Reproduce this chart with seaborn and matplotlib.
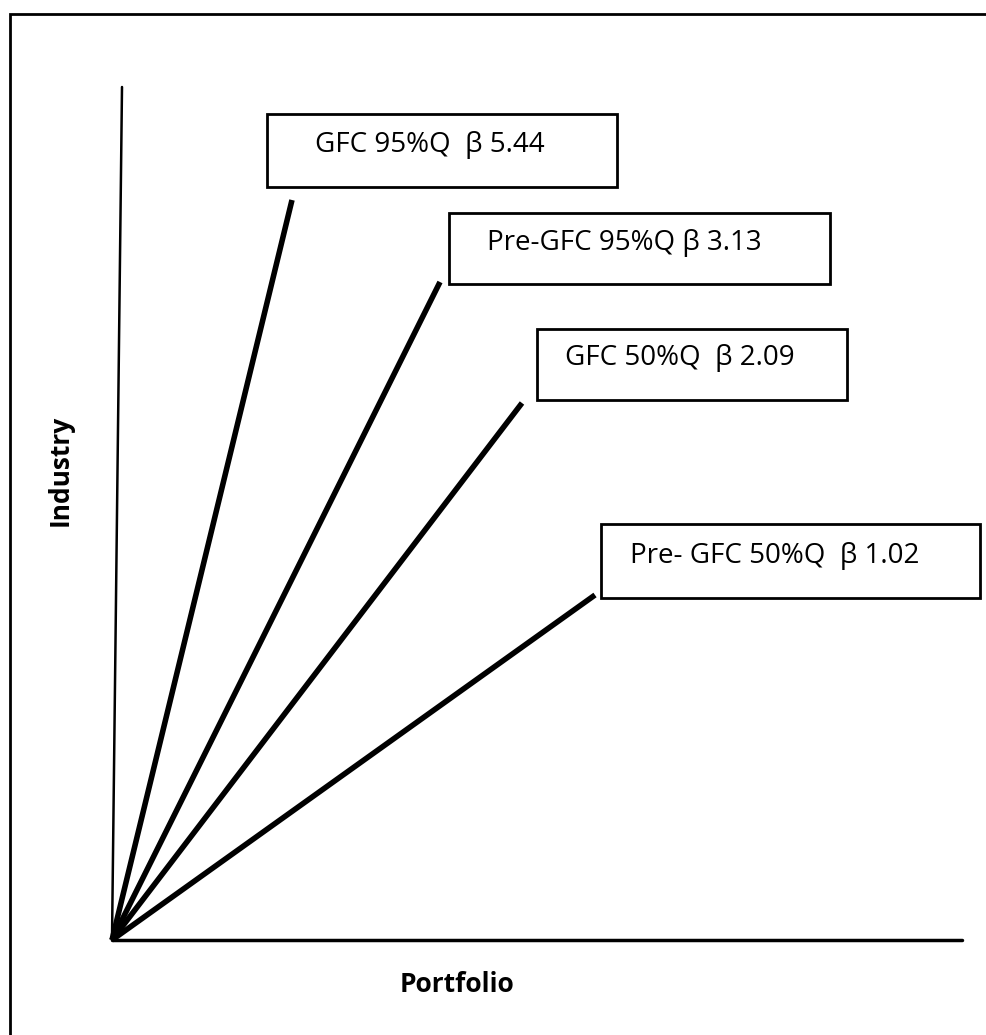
import pandas as pd
import numpy as np
import matplotlib.pyplot as plt
import seaborn as sns
from matplotlib.patches import Rectangle

# values (pixel units, origin at the axes corner)
series = ['GFC 95%Q', 'Pre-GFC 95%Q', 'GFC 50%Q', 'Pre-GFC 50%Q']
labels = ['GFC 95%Q  \u03b2 5.44', 'Pre-GFC 95%Q \u03b2 3.13',
          'GFC 50%Q  \u03b2 2.09', 'Pre- GFC 50%Q  \u03b2 1.02']
portfolio_end = [180, 328, 410, 483]
industry_end = [740, 658, 537, 345]

# label boxes: (x0, y0, width, height) in the same units
boxes = [(155, 753, 350, 73), (337, 656, 381, 71), (425, 540, 310, 71), (489, 342, 379, 74)]
text_pos = [(203, 788), (375, 690), (453, 575), (518, 377)]

sns.set_theme(style='white')
plt.rcParams['font.family'] = ['Open Sans', 'DejaVu Sans']

rows = []
for s, px, iy in zip(series, portfolio_end, industry_end):
    rows.append({'series': s, 'Portfolio': 0, 'Industry': 0})
    rows.append({'series': s, 'Portfolio': px, 'Industry': iy})
df = pd.DataFrame(rows)

fig = plt.figure(figsize=(9.87, 10.35), dpi=100)
ax = fig.add_axes([0, 0, 1, 1])

sns.lineplot(data=df, x='Portfolio', y='Industry', hue='series',
             palette=['black'] * 4, linewidth=4, legend=False, ax=ax,
             solid_capstyle='butt')

# axes drawn as in the sketch
ax.plot([0, 10], [0, 853], color='black', lw=1.8)
ax.plot([0, 850], [0, 0], color='black', lw=2.5)

for (x0, y0, w, h), (tx, ty), lab in zip(boxes, text_pos, labels):
    ax.add_patch(Rectangle((x0, y0), w, h, fill=False, edgecolor='black', lw=2))
    ax.text(tx, ty, lab, fontsize=20, ha='left', va='baseline', color='black')

ax.text(345, -44, 'Portfolio', fontsize=19, fontweight='bold', ha='center',
        va='center', color='black')
ax.text(-52, 470, 'Industry', fontsize=19, fontweight='bold', ha='center',
        va='center', rotation=90, color='black')

# outer frame (cropped on the right and bottom)
ax.add_patch(Rectangle((-102, -200), 1200, 1126, fill=False, edgecolor='black', lw=2))

ax.set_xlim(-112, 875)
ax.set_ylim(-95, 940)
ax.axis('off')

plt.savefig('out.png', dpi=100)
